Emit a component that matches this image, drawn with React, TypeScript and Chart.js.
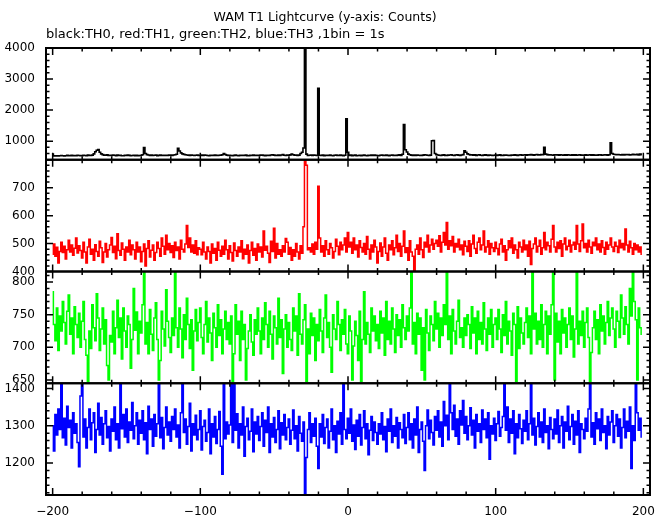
import React, { useEffect, useRef } from "react";
import { Chart, registerables } from "chart.js";

Chart.register(...registerables);

const TITLE = "WAM T1 Lightcurve (y-axis: Counts)";
const SUBTITLE = "black:TH0, red:TH1, green:TH2, blue:TH3 ,1bin = 1s";

// first bin time (s); one bin = 1 s
const FIRST_BIN = -200;

// TH0 (black) counts per 1 s bin, t = -200 .. 199
const TH0 = [
  585,525,520,530,522,528,535,530,526,531,540,528,534,545,530,538,527,541,536,529,
  533,546,538,530,552,541,535,548,590,660,705,725,640,590,565,550,548,556,540,545,
  538,552,545,530,548,535,541,530,527,544,536,552,541,530,538,546,532,541,528,537,
  545,560,790,600,565,552,540,548,538,545,552,534,541,548,536,542,538,547,540,553,
  548,541,555,560,575,770,680,620,590,572,560,555,548,541,552,545,538,547,552,541,
  535,548,541,552,544,538,530,546,540,535,552,541,536,545,550,560,600,570,548,540,
  545,538,532,541,550,536,528,540,546,535,541,548,532,530,545,540,552,538,546,541,
  535,548,552,540,530,546,541,538,552,560,548,542,536,549,540,553,566,545,541,550,
  548,556,580,560,545,552,540,548,600,640,780,4000,580,540,545,552,540,548,543,540,
  2700,545,538,552,530,546,541,537,550,535,528,545,552,540,536,548,541,530,545,1720,
  640,535,548,530,541,552,527,538,545,533,541,550,536,528,545,540,552,535,548,541,
  538,530,546,552,540,535,548,541,530,545,552,538,541,535,548,562,540,575,1530,720,
  650,580,560,548,541,555,538,552,545,540,536,548,560,552,545,540,548,1010,1020,600,
  565,552,545,538,548,556,541,535,548,552,560,545,538,552,560,548,541,555,566,690,
  640,590,568,552,560,548,556,541,552,560,545,538,550,556,548,541,552,546,538,545,
  552,541,548,556,540,535,548,552,546,541,538,552,545,556,548,541,552,560,546,552,
  556,548,560,552,565,558,548,560,566,552,558,570,560,800,580,565,556,560,552,548,
  560,552,556,548,560,552,545,556,548,560,552,545,556,550,558,546,552,560,548,552,
  545,556,548,552,560,548,556,545,552,548,556,560,548,552,560,556,548,560,950,600,
  575,568,560,570,562,556,565,558,566,560,570,556,562,575,560,566,572,558,580,565,
];

// TH1 (red)
const TH1 = [
  462,498,455,487,430,472,505,468,490,445,478,512,470,495,458,483,520,466,492,475,
  448,505,470,430,488,515,462,480,440,496,472,455,508,485,432,470,500,452,478,495,
  522,468,490,446,535,475,458,502,480,440,488,470,512,460,495,478,445,505,470,488,
  435,472,498,420,482,510,452,476,495,440,468,505,482,455,520,490,462,530,478,500,
  468,492,450,505,475,488,445,512,480,470,498,565,486,520,470,495,465,510,460,485,
  480,460,505,470,445,488,472,430,498,465,482,440,505,476,455,490,462,512,478,445,
  492,468,438,502,475,455,488,470,510,446,480,462,495,430,475,505,458,482,440,498,
  470,488,452,545,476,490,465,432,508,472,555,448,500,462,478,455,492,470,518,505,
  462,486,440,478,455,500,470,445,492,465,560,800,780,478,485,470,498,462,505,480,
  705,520,470,492,455,510,478,462,500,485,448,472,515,490,460,505,478,495,520,470,
  540,488,505,465,520,478,495,452,510,486,470,500,462,525,480,445,495,470,512,488,
  430,472,502,455,488,520,465,440,495,478,510,460,485,530,472,500,455,490,545,468,
  485,440,510,470,455,402,480,495,462,520,478,450,505,488,530,470,495,515,480,500,
  512,490,528,470,505,540,495,575,480,510,492,525,470,500,488,515,478,495,460,508,
  490,472,510,455,498,530,482,465,505,520,478,495,545,470,488,510,462,500,485,472,
  505,482,460,498,515,470,492,440,478,510,485,520,465,495,478,448,505,488,470,512,
  478,495,455,508,425,482,498,520,470,490,512,462,485,540,478,505,492,470,515,565,
  488,470,505,482,510,455,498,520,478,490,512,470,495,505,480,565,498,472,510,570,
  485,500,470,512,488,465,505,492,520,478,498,470,510,486,462,505,480,495,520,488,
  472,505,490,468,512,485,500,478,552,495,470,508,485,462,500,478,495,470,488,462,
];

// TH2 (green)
const TH2 = [
  785,735,710,760,695,748,725,770,738,705,755,780,720,745,690,762,735,715,752,700,
  740,770,712,688,648,725,698,765,730,710,782,745,695,728,760,705,742,672,650,718,
  708,755,690,730,772,715,745,682,760,725,700,748,735,668,712,790,726,754,690,740,
  722,765,816,705,738,690,758,720,695,745,768,712,650,680,755,728,702,788,740,715,
  692,745,718,816,730,700,760,728,684,750,712,775,735,698,742,665,725,758,710,738,
  760,715,690,735,770,708,745,722,680,752,730,700,765,718,742,690,728,755,712,738,
  705,748,648,690,765,720,740,680,755,712,735,650,698,725,750,708,688,742,720,760,
  725,690,745,712,768,735,700,755,720,682,748,730,705,775,715,742,660,728,750,700,
  738,712,695,760,725,748,688,782,720,705,742,765,648,728,690,752,718,745,680,735,
  710,758,725,692,745,780,715,738,700,662,750,728,712,770,735,695,742,720,758,705,
  690,748,725,650,702,740,718,680,755,648,712,785,705,738,720,692,760,725,748,710,
  735,698,755,722,745,688,770,712,740,705,760,728,692,750,718,742,700,765,730,712,
  748,725,760,816,705,738,690,752,720,745,665,730,650,758,722,695,748,735,710,770,
  728,752,700,745,718,765,735,816,712,748,690,758,725,705,740,772,715,730,700,745,
  718,750,735,698,762,722,745,690,755,712,738,705,768,728,695,745,720,758,700,735,
  745,712,758,728,692,750,718,770,705,740,725,688,752,735,648,762,698,745,722,705,
  738,760,715,748,690,816,728,752,705,740,712,765,700,735,755,690,748,720,765,816,
  650,752,708,740,690,758,722,745,700,735,760,712,748,685,728,816,705,740,718,755,
  700,738,760,715,648,692,730,755,712,742,690,765,725,748,705,738,770,718,745,760,
  728,700,755,740,715,780,745,720,762,735,705,790,748,816,770,742,650,760,730,720,
];

// TH3 (blue)
const TH3 = [
  1300,1232,1330,1275,1345,1290,1410,1268,1320,1248,1352,1295,1315,1240,1335,1280,1305,1255,1190,1380,
  1410,1270,1318,1240,1295,1345,1262,1308,1335,1228,1290,1360,1275,1322,1250,1305,1340,1268,1298,1232,
  1318,1285,1350,1262,1305,1240,1410,1292,1330,1270,1345,1255,1310,1288,1362,1265,1300,1335,1250,1315,
  1280,1340,1262,1308,1225,1352,1290,1318,1245,1330,1272,1305,1410,1268,1322,1238,1295,1350,1275,1310,
  1258,1325,1290,1345,1270,1302,1240,1335,1410,1282,1318,1250,1298,1360,1232,1305,1275,1328,1262,1290,
  1340,1235,1298,1315,1258,1282,1345,1225,1305,1270,1325,1252,1290,1338,1245,1170,1410,1265,1310,1278,
  1302,1410,1255,1410,1288,1332,1240,1305,1275,1350,1218,1298,1320,1262,1285,1345,1230,1310,1278,1325,
  1260,1298,1335,1245,1315,1282,1350,1228,1305,1270,1322,1255,1290,1340,1238,1308,1275,1330,1262,1295,
  1318,1250,1288,1342,1265,1300,1232,1325,1280,1258,1310,1115,1215,1290,1335,1255,1305,1272,1320,1245,
  1185,1305,1270,1330,1252,1295,1318,1240,1285,1345,1262,1300,1228,1312,1278,1335,1250,1410,1290,1265,
  1320,1280,1345,1258,1302,1236,1315,1272,1330,1248,1295,1340,1265,1305,1222,1288,1325,1260,1310,1282,
  1250,1305,1278,1335,1262,1298,1230,1318,1285,1345,1255,1300,1272,1322,1240,1308,1290,1268,1330,1252,
  1295,1335,1262,1305,1240,1318,1275,1350,1228,1290,1310,1258,1180,1300,1342,1265,1315,1282,1248,1325,
  1288,1340,1270,1310,1245,1365,1300,1328,1262,1410,1335,1290,1355,1272,1318,1250,1340,1302,1368,1280,
  1325,1262,1300,1348,1275,1315,1240,1330,1285,1305,1255,1342,1290,1318,1268,1335,1210,1300,1278,1320,
  1260,1305,1338,1272,1295,1325,1410,1288,1350,1255,1318,1280,1340,1225,1305,1268,1330,1292,1252,1315,
  1285,1340,1262,1305,1410,1275,1320,1248,1298,1335,1270,1310,1255,1345,1282,1300,1238,1322,1290,1265,
  1318,1278,1342,1255,1300,1325,1240,1310,1285,1352,1262,1298,1330,1250,1312,1275,1340,1228,1305,1290,
  1265,1320,1285,1345,1410,1270,1308,1250,1335,1292,1318,1260,1345,1282,1300,1238,1325,1275,1310,1340,
  1255,1300,1330,1272,1318,1240,1295,1345,1268,1312,1285,1350,1185,1300,1260,1410,1335,1288,1320,1270,
];

// axis ranges and tick labels
const X_RANGE = [-204.5, 204.5];
const X_LABELS = [-200, -100, 0, 100, 200];
const X_MAJOR = 100;
const X_MINOR = 20;

const TH0_RANGE = [400, 4000];
const TH0_LABELS = [1000, 2000, 3000, 4000];
const TH1_RANGE = [400, 800];
const TH1_LABELS = [400, 500, 600, 700];
const TH2_RANGE = [645, 816];
const TH2_LABELS = [650, 700, 750, 800];
const TH3_RANGE = [1114, 1414];
const TH3_LABELS = [1200, 1300, 1400];

const PANELS = [
  { id: "y1", name: "TH0", values: TH0, color: "#000000", range: TH0_RANGE, labels: TH0_LABELS, major: 1000, minor: 200, width: 1.6 },
  { id: "y2", name: "TH1", values: TH1, color: "#ff0000", range: TH1_RANGE, labels: TH1_LABELS, major: 100, minor: 20, width: 1.5 },
  { id: "y3", name: "TH2", values: TH2, color: "#00ff00", range: TH2_RANGE, labels: TH2_LABELS, major: 50, minor: 10, width: 1.5 },
  { id: "y4", name: "TH3", values: TH3, color: "#0000ff", range: TH3_RANGE, labels: TH3_LABELS, major: 100, minor: 20, width: 1.5 },
];

const FONT = "'DejaVu Sans', sans-serif";

const fmt = (v: number) => (v < 0 ? "\u2212" + Math.abs(v) : String(v));

const panelPlugin = {
  id: "panelFrames",
  beforeDatasetDraw(chart: any, args: any) {
    const ys = chart.scales[args.meta.yAxisID];
    const a = chart.chartArea;
    const ctx = chart.ctx;
    ctx.save();
    ctx.beginPath();
    ctx.rect(a.left, ys.top, a.right - a.left, ys.bottom - ys.top);
    ctx.clip();
  },
  afterDatasetDraw(chart: any) {
    chart.ctx.restore();
  },
  afterDraw(chart: any) {
    const ctx = chart.ctx;
    const a = chart.chartArea;
    const xs = chart.scales.x;
    ctx.save();
    ctx.strokeStyle = "#000";
    for (const p of PANELS) {
      const ys = chart.scales[p.id];
      const top = ys.top;
      const bottom = ys.bottom;
      ctx.lineWidth = 1.5;
      ctx.beginPath();
      const k0 = Math.ceil(p.range[0] / p.minor);
      const k1 = Math.floor(p.range[1] / p.minor);
      for (let k = k0; k <= k1; k++) {
        const v = k * p.minor;
        const y = ys.getPixelForValue(v);
        const len = v % p.major === 0 ? 7 : 3.5;
        ctx.moveTo(a.left, y);
        ctx.lineTo(a.left + len, y);
        ctx.moveTo(a.right, y);
        ctx.lineTo(a.right - len, y);
      }
      const j0 = Math.ceil(X_RANGE[0] / X_MINOR);
      const j1 = Math.floor(X_RANGE[1] / X_MINOR);
      for (let j = j0; j <= j1; j++) {
        const v = j * X_MINOR;
        const x = xs.getPixelForValue(v);
        const len = v % X_MAJOR === 0 ? 7 : 3.5;
        ctx.moveTo(x, top);
        ctx.lineTo(x, top + len);
        ctx.moveTo(x, bottom);
        ctx.lineTo(x, bottom - len);
      }
      ctx.stroke();
      ctx.lineWidth = 2;
      ctx.strokeRect(a.left, top, a.right - a.left, bottom - top);
    }
    ctx.restore();
  },
};

export default function App() {
  const ref = useRef<HTMLCanvasElement | null>(null);

  useEffect(() => {
    document.body.style.margin = "0";
    const canvas = ref.current;
    if (!canvas) return;

    const scales: any = {
      x: {
        type: "linear",
        min: X_RANGE[0],
        max: X_RANGE[1],
        grid: { display: false, drawTicks: false },
        border: { display: false },
        afterBuildTicks: (axis: any) => {
          axis.ticks = X_LABELS.map((v) => ({ value: v }));
        },
        afterFit: (axis: any) => {
          axis.height = 20;
        },
        ticks: {
          padding: 10,
          autoSkip: false,
          maxRotation: 0,
          color: "#000",
          font: { family: FONT, size: 12 },
          callback: (v: any) => fmt(Number(v)),
        },
      },
    };
    // define bottom panel first so that the top panel ends up on top of the stack
    [...PANELS].reverse().forEach((p, i) => {
      scales[p.id] = {
        type: "linear",
        position: "left",
        stack: "panels",
        stackWeight: 1,
        weight: i + 1,
        min: p.range[0],
        max: p.range[1],
        grid: { display: false, drawTicks: false },
        border: { display: false },
        afterBuildTicks: (axis: any) => {
          axis.ticks = p.labels.map((v) => ({ value: v }));
        },
        afterFit: (axis: any) => {
          axis.width = 46;
        },
        ticks: {
          padding: 11,
          autoSkip: false,
          color: "#000",
          font: { family: FONT, size: 12 },
          callback: (v: any) => fmt(Number(v)),
        },
      };
    });

    const datasets = PANELS.map((p) => ({
      label: p.name,
      yAxisID: p.id,
      xAxisID: "x",
      data: p.values.map((v, i) => ({ x: FIRST_BIN + i, y: v })),
      borderColor: p.color,
      backgroundColor: p.color,
      borderWidth: p.width,
      pointRadius: 0,
      stepped: "middle" as const,
      tension: 0,
      fill: false,
      clip: false as const,
    }));

    const chart = new Chart(canvas, {
      type: "line",
      data: { datasets },
      options: {
        responsive: false,
        animation: false,
        devicePixelRatio: 1,
        parsing: false,
        normalized: true,
        layout: { padding: { left: 0, right: 19, top: 0, bottom: 0 } },
        scales,
        plugins: {
          legend: { display: false },
          tooltip: { enabled: false },
          title: {
            display: true,
            text: TITLE,
            fullSize: true,
            align: "center",
            color: "#000",
            font: { family: FONT, size: 12.5, weight: "normal", lineHeight: 1.2 },
            padding: { top: 10, bottom: 1.5 },
          },
          subtitle: {
            display: true,
            text: SUBTITLE,
            fullSize: false,
            align: "start",
            color: "#000",
            font: { family: FONT, size: 13, weight: "normal", lineHeight: 1.2 },
            padding: { top: 0, bottom: 5.9 },
          },
        },
      } as any,
      plugins: [panelPlugin],
    });

    return () => chart.destroy();
  }, []);

  return (
    <div style={{ width: 669, height: 515, background: "#fff" }}>
      <canvas ref={ref} width={669} height={515} style={{ display: "block" }} />
    </div>
  );
}
